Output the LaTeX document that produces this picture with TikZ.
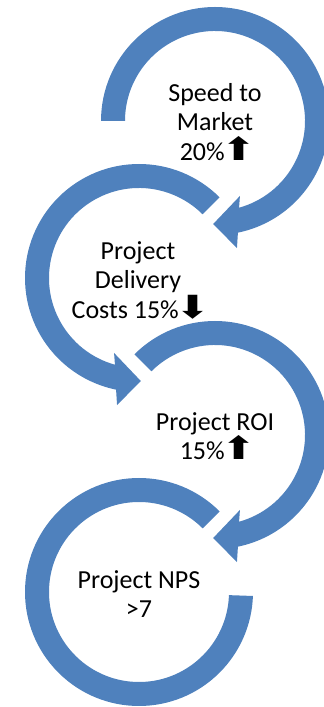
\documentclass[tikz,border=0pt]{standalone}
\usepackage{fontspec}
\setmainfont{Carlito}
\newfontfamily\symfont{DejaVu Sans}
\usetikzlibrary{calc}
\definecolor{ringblue}{RGB}{79,129,189}
\tikzset{ring/.style = {fill=ringblue}}
\tikzset{caption/.style = {align=center,inner sep=0pt,font=\fontsize{26}{29.5}\selectfont}}
\newcommand{\uparr}{\kern-3.5pt\scalebox{1.9}[1.45]{\symfont\fontsize{22}{22}\selectfont ⬆}\kern-6pt}
\newcommand{\downarr}{\kern-3.5pt\scalebox{1.9}[1.45]{\symfont\fontsize{22}{22}\selectfont ⬇}\kern-6pt}

\begin{document}
\begin{tikzpicture}[x=1pt,y=1pt]
\def \ro {114}
\def \ri {90}
\useasboundingbox (0,0) rectangle (324,707);

\coordinate (c1) at (215,586);
\coordinate (c2) at (139,429);
\coordinate (c3) at (215,272);
\coordinate (c4) at (139,115);

\fill[ring] ($(c1)+(180:\ro)$)
  arc[start angle=180, end angle=-78.4, radius=\ro]
  -- ($(c1)+(-80.2:129)$) -- ($(c1)+(-91:103)$) -- ($(c1)+(-71.6:79)$)
  -- ($(c1)+(-74.5:\ri)$)
  arc[start angle=-74.5, end angle=180, radius=\ri] -- cycle;

\fill[ring] ($(c2)+(45:\ro)$)
  arc[start angle=45, end angle=258.4, radius=\ro]
  -- ($(c2)+(260.2:129)$) -- ($(c2)+(271:103)$) -- ($(c2)+(251.6:79)$)
  -- ($(c2)+(254.5:\ri)$)
  arc[start angle=254.5, end angle=45, radius=\ri] -- cycle;

\fill[ring] ($(c3)+(135:\ro)$)
  arc[start angle=135, end angle=-78.4, radius=\ro]
  -- ($(c3)+(-80.2:129)$) -- ($(c3)+(-91:103)$) -- ($(c3)+(-71.6:79)$)
  -- ($(c3)+(-74.5:\ri)$)
  arc[start angle=-74.5, end angle=135, radius=\ri] -- cycle;

\fill[ring] ($(c4)+(45:\ro)$)
  arc[start angle=45, end angle=358, radius=\ro]
  -- ($(c4)+(358:\ri)$)
  arc[start angle=358, end angle=45, radius=\ri] -- cycle;

\node[caption] (speed) at (215,585) {Speed to\\Market\\20\%\uparr};
\node[caption] (cost) at (138,427) {Project\\Delivery\\Costs 15\%\downarr};
\node[caption] (roi) at (215,271) {Project ROI\\15\%\uparr};
\node[caption] (nps) at (139,113) {Project NPS\\>7};

\end{tikzpicture}
\end{document}
